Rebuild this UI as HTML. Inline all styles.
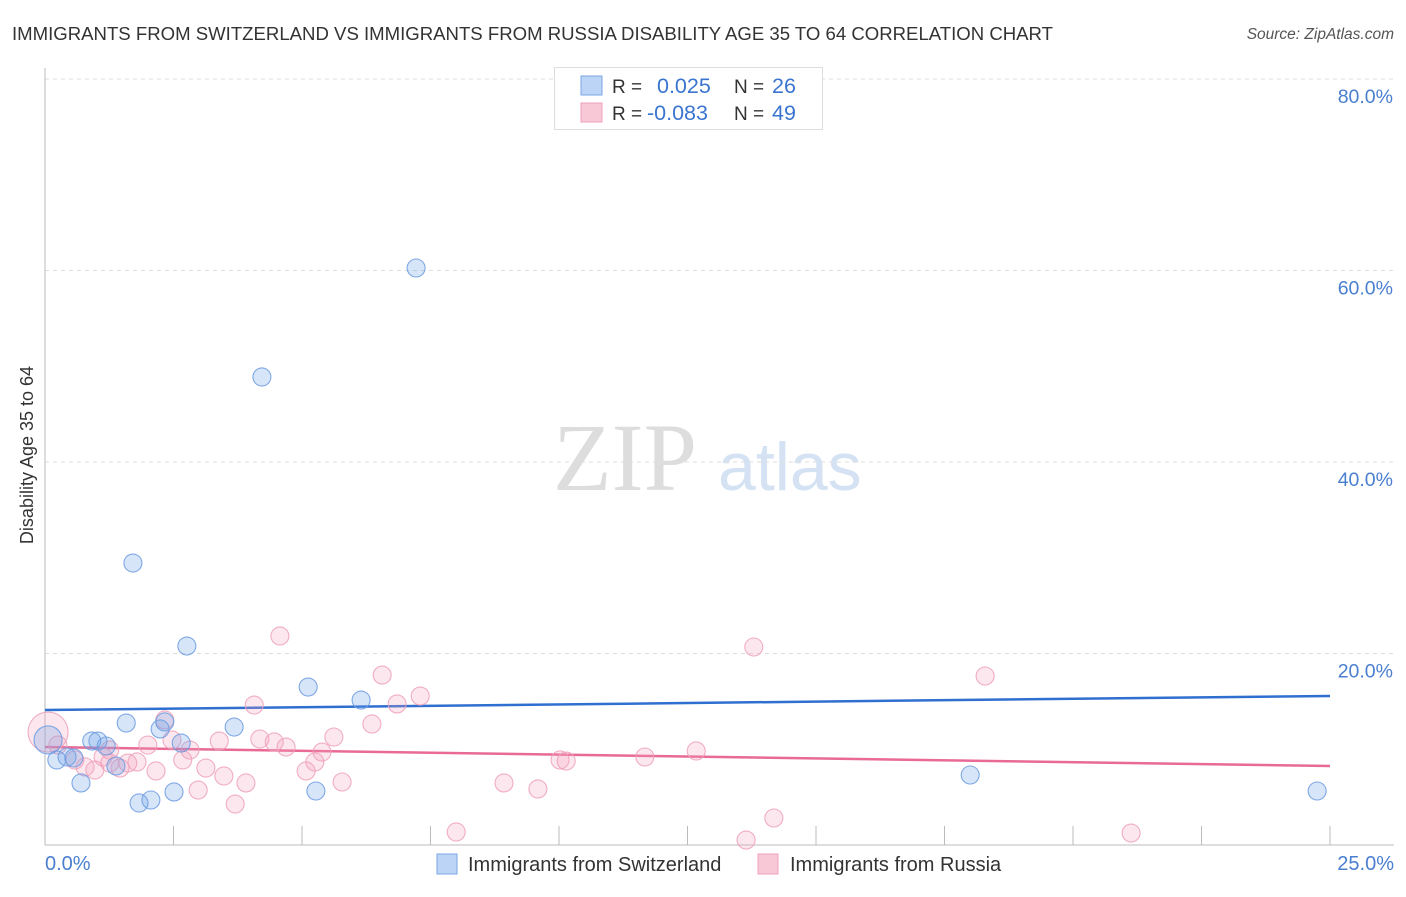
<!DOCTYPE html>
<html><head><meta charset="utf-8"><style>
body{margin:0;background:#fff;font-family:"Liberation Sans",sans-serif}
svg text{font-family:"Liberation Sans",sans-serif}
</style></head><body>
<svg width="1406" height="892" xmlns="http://www.w3.org/2000/svg">
<text x="12" y="40" font-size="18.5" fill="#333" textLength="1041" lengthAdjust="spacingAndGlyphs">IMMIGRANTS FROM SWITZERLAND VS IMMIGRANTS FROM RUSSIA DISABILITY AGE 35 TO 64 CORRELATION CHART</text>
<text x="1394" y="39" font-size="15.5" fill="#555" font-style="italic" text-anchor="end">Source: ZipAtlas.com</text>
<g>
<text x="553" y="490" font-size="96" fill="#ddd" font-family="Liberation Serif" style="font-family:'Liberation Serif',serif">ZIP</text>
<text x="718" y="490" font-size="68" fill="#d4e2f4">atlas</text>
</g>
<g id="grid"></g>
<g id="axes"></g>
<g id="lines"></g>
<g id="pts"></g>
<text x="33" y="455" font-size="18" fill="#333" text-anchor="middle" transform="rotate(-90 33 455)">Disability Age 35 to 64</text>
<text x="45" y="870" font-size="20" fill="#4a7fd0">0.0%</text>
<text x="1394" y="870" font-size="20" fill="#4a7fd0" text-anchor="end">25.0%</text>
<g>
<rect x="554.5" y="67.5" width="268" height="62" fill="#fff" stroke="#ddd"/>
<rect x="581" y="76" width="21" height="19" fill="#bcd4f6" stroke="#7aa6e6"/>
<rect x="581" y="103" width="21" height="19" fill="#f9c8d6" stroke="#eea0b8"/>
<text x="612" y="93" font-size="19" fill="#333">R = </text><text x="657" y="93" font-size="21.5" fill="#3a75d0">0.025</text>
<text x="734" y="93" font-size="19" fill="#333">N = </text><text x="772" y="93" font-size="21.5" fill="#3a75d0">26</text>
<text x="612" y="120" font-size="19" fill="#333">R = </text><text x="647" y="120" font-size="21.5" fill="#3a75d0">-0.083</text>
<text x="734" y="120" font-size="19" fill="#333">N = </text><text x="772" y="120" font-size="21.5" fill="#3a75d0">49</text>
</g>
<g>
<rect x="437" y="854" width="20" height="20" fill="#bcd4f6" stroke="#7aa6e6"/>
<text x="468" y="871" font-size="20" fill="#333">Immigrants from Switzerland</text>
<rect x="758" y="854" width="20" height="20" fill="#f9c8d6" stroke="#eea0b8"/>
<text x="790" y="871" font-size="20" fill="#333">Immigrants from Russia</text>
</g>
</svg>
<script>
const yTicks=[20,40,60,80];
const yTickLabels=["20.0%","40.0%","60.0%","80.0%"];
const blueX=[0.06,0.23,0.43,0.56,0.70,0.91,1.03,1.19,1.38,1.58,1.83,2.06,2.24,2.33,2.51,2.65,2.76,3.68,4.22,5.12,5.27,6.15,7.22,18.00,24.75,1.71];
const blueY=[10.97,8.88,9.19,9.09,6.48,10.86,10.86,10.34,8.25,12.74,4.39,4.70,12.12,12.85,5.54,10.65,20.78,12.32,48.88,16.50,5.64,15.14,60.26,7.31,5.64,29.45];
const pinkX=[0.06,0.25,0.58,0.78,0.97,1.13,1.26,1.26,1.46,1.61,1.79,2.00,2.16,2.33,2.47,2.68,2.82,2.98,3.13,3.39,3.48,3.70,3.91,4.07,4.18,4.46,4.57,4.69,5.08,5.25,5.39,5.62,5.78,6.36,6.56,6.85,7.30,8.00,8.93,9.59,10.02,10.14,11.67,12.67,13.64,13.79,14.18,18.29,21.13];
const pinkY=[11.80,10.44,8.88,8.15,7.83,9.19,8.56,9.92,8.04,8.56,8.67,10.44,7.73,13.06,10.97,8.88,9.92,5.74,8.04,10.86,7.21,4.28,6.48,14.62,11.07,10.76,21.83,10.23,7.73,8.67,9.71,11.28,6.58,12.64,17.75,14.73,15.56,1.36,6.48,5.85,8.88,8.77,9.19,9.82,0.52,20.68,2.82,17.65,1.25];
const blueTrend=[14.10,15.56];
const pinkTrend=[10.23,8.25];
const NS="http://www.w3.org/2000/svg";
const X0=45,X1=1330,Y0=845,PY=9.575;
const sx=v=>X0+(v/25)*(X1-X0);
const sy=v=>Y0-v*PY;
function mk(tag,attrs,parent){const e=document.createElementNS(NS,tag);for(const k in attrs)e.setAttribute(k,attrs[k]);document.getElementById(parent).appendChild(e);return e;}
yTicks.forEach((t,i)=>{
 const g=mk('line',{x1:X0,x2:1394,y1:sy(t),y2:sy(t),stroke:'#ddd','stroke-dasharray':'4,4'},'grid');
 
 
 const l=mk('text',{x:1393,y:sy(t)+24,'font-size':19.5,fill:'#4a7fd0','text-anchor':'end'},'grid');
 l.textContent=yTickLabels[i];
 
 
});
const ax=mk('line',{x1:X0,x2:X0,y1:68,y2:Y0,stroke:'#bbb'},'axes');


const bx=mk('line',{x1:X0,x2:1394,y1:Y0,y2:Y0,stroke:'#bbb'},'axes');


for(let i=1;i<=10;i++){
 const t=mk('line',{x1:sx(i*2.5),x2:sx(i*2.5),y1:Y0-19,y2:Y0,stroke:'#bbb'},'axes');
 
 
}
function trend(v,c,n){const l=mk('line',{x1:sx(0),x2:sx(25),y1:sy(v[0]),y2:sy(v[1]),stroke:c,'stroke-width':2.5},'lines');
 
 }
function pts(xs,ys,fill,stroke,n){xs.forEach((x,i)=>{
 const r=i===0?(n==='russia-point'?20:14):9;
 const c=mk('circle',{cx:sx(x),cy:sy(ys[i]),r:r,fill:fill,stroke:stroke,'stroke-width':1.1,'stroke-opacity':0.85},'pts');
 
 });}
pts(pinkX,pinkY,'rgba(244,160,188,0.25)','#eea0b8','russia-point');
pts(blueX,blueY,'rgba(110,160,235,0.28)','#6b9be0','switzerland-point');
trend(blueTrend,'#2f6fd0','switzerland-trendline');
trend(pinkTrend,'#e86a95','russia-trendline');
</script>
</body></html>
